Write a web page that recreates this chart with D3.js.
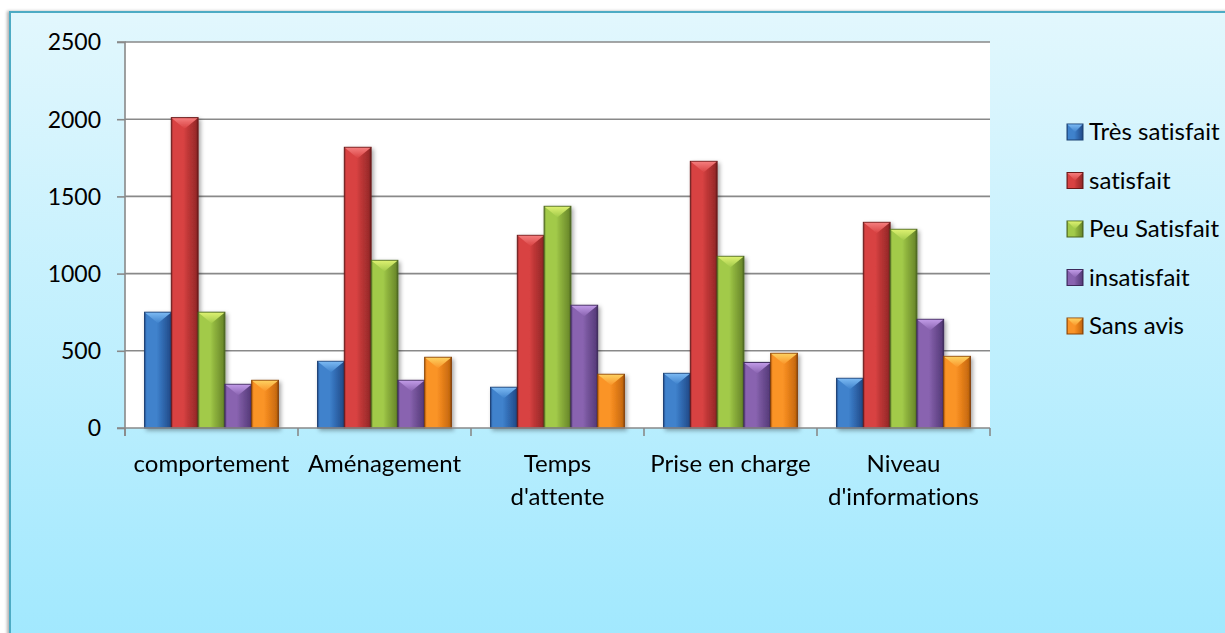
<!DOCTYPE html>
<html>
<head>
<meta charset="utf-8">
<script src="https://cdn.jsdelivr.net/npm/d3@7"></script>
<style>
  html, body { margin: 0; padding: 0; background: #ffffff; }
  svg { display: block; }
  text { font-family: Lato, "Open Sans", sans-serif; fill: #000; font-variant-ligatures: none; }
</style>
</head>
<body>
<svg id="chart" width="1225" height="633"></svg>
<script>
// Satisfaction counts per service aspect
const categories = ["comportement", "Aménagement", "Temps d'attente", "Prise en charge", "Niveau d'informations"];
const categoryLines = [["comportement"], ["Aménagement"], ["Temps", "d'attente"], ["Prise en charge"], ["Niveau", "d'informations"]];
const seriesNames = ["Très satisfait", "satisfait", "Peu Satisfait", "insatisfait", "Sans avis"];
const tresSatisfait = [750, 432, 264, 354, 322];
const satisfait = [2010, 1818, 1248, 1727, 1332];
const peuSatisfait = [750, 1086, 1436, 1112, 1287];
const insatisfait = [283, 309, 795, 425, 704];
const sansAvis = [309, 458, 348, 484, 464];
const yTicks = [0, 500, 1000, 1500, 2000, 2500];

const seriesValues = [tresSatisfait, satisfait, peuSatisfait, insatisfait, sansAvis];

// bevelled bar palette: light top face, main body, bright side, dark edge
const palette = [
  { top: "#7ab8f2", light: "#3f82cc", mid: "#3572bb", dark: "#245090", edge: "#1d4275" },
  { top: "#f47c7c", light: "#d84242", mid: "#c23838", dark: "#9a2a2a", edge: "#6a1a1a" },
  { top: "#dcf070", light: "#a2ca4a", mid: "#8fb43e", dark: "#6d8c2c", edge: "#4a6420" },
  { top: "#c09ae6", light: "#8963b0", mid: "#78569e", dark: "#5a3e7e", edge: "#3d295a" },
  { top: "#fdd060", light: "#fa9428", mid: "#ee861c", dark: "#c86a10", edge: "#884408" }
];

const svg = d3.select("#chart");
const defs = svg.append("defs");

// outer frame gradient
const bg = defs.append("linearGradient").attr("id", "bg").attr("x1", 0).attr("y1", 0).attr("x2", 0).attr("y2", 1);
bg.append("stop").attr("offset", "0%").attr("stop-color", "#e2f7fd");
bg.append("stop").attr("offset", "100%").attr("stop-color", "#a0e8fe");

const shadow = defs.append("filter").attr("id", "shadow").attr("x", "-20%").attr("y", "-20%").attr("width", "150%").attr("height", "140%");
shadow.append("feDropShadow").attr("dx", 2).attr("dy", 2).attr("stdDeviation", 2)
  .attr("flood-color", "#000").attr("flood-opacity", 0.35);

const frameShadow = defs.append("filter").attr("id", "frameShadow").attr("x", "-5%").attr("y", "-5%").attr("width", "110%").attr("height", "110%");
frameShadow.append("feDropShadow").attr("dx", -2).attr("dy", 0).attr("stdDeviation", 1.5)
  .attr("flood-color", "#000").attr("flood-opacity", 0.3);

palette.forEach((c, i) => {
  const g = defs.append("linearGradient").attr("id", "body" + i).attr("x1", 0).attr("y1", 0).attr("x2", 1).attr("y2", 0);
  g.append("stop").attr("offset", "0%").attr("stop-color", c.dark);
  g.append("stop").attr("offset", "8%").attr("stop-color", c.light);
  g.append("stop").attr("offset", "45%").attr("stop-color", c.light);
  g.append("stop").attr("offset", "60%").attr("stop-color", c.mid);
  g.append("stop").attr("offset", "92%").attr("stop-color", c.dark);
  g.append("stop").attr("offset", "100%").attr("stop-color", c.edge);
  const t = defs.append("linearGradient").attr("id", "top" + i).attr("x1", 0).attr("y1", 0).attr("x2", 0).attr("y2", 1);
  t.append("stop").attr("offset", "0%").attr("stop-color", c.top);
  t.append("stop").attr("offset", "100%").attr("stop-color", c.light);
});

// frame
svg.append("rect")
  .attr("x", 10).attr("y", 12).attr("width", 1240).attr("height", 640)
  .attr("fill", "url(#bg)").attr("stroke", "#4dabc4").attr("stroke-width", 2)
  .attr("filter", "url(#frameShadow)");

const plot = { left: 125, right: 990, top: 42, bottom: 428 };

const x = d3.scaleBand().domain(categories).range([plot.left, plot.right]).padding(0);
const xSub = d3.scaleBand().domain(seriesNames).range([0, x.bandwidth()]).paddingInner(0).paddingOuter(0.73);
const y = d3.scaleLinear().domain([0, 2500]).range([plot.bottom, plot.top]);

// plot area
svg.append("rect")
  .attr("x", plot.left).attr("y", plot.top)
  .attr("width", plot.right - plot.left).attr("height", plot.bottom - plot.top)
  .attr("fill", "#ffffff");

// gridlines
svg.append("g").selectAll("line").data(yTicks.filter(d => d > 0)).join("line")
  .attr("x1", plot.left).attr("x2", plot.right)
  .attr("y1", d => y(d)).attr("y2", d => y(d))
  .attr("stroke", "#898989").attr("stroke-width", 1.6);

// y axis
const yAxis = svg.append("g").attr("transform", `translate(${plot.left},0)`)
  .call(d3.axisLeft(y).tickValues(yTicks).tickSize(8).tickPadding(16).tickFormat(d3.format("d")));
yAxis.select(".domain").attr("stroke", "#898989").attr("stroke-width", 1.6).attr("d", `M-8,${plot.top}H0V${plot.bottom + 8}`);
yAxis.selectAll(".tick line").attr("stroke", "#898989").attr("stroke-width", 1.6);
yAxis.selectAll(".tick text").attr("font-size", 23).attr("font-family", "Lato, sans-serif").attr("fill", "#000").attr("dy", "0.34em");

// bars
const barData = [];
seriesValues.forEach((vals, i) => vals.forEach((v, j) => barData.push({ s: i, cat: categories[j], v })));

const bars = svg.append("g").attr("filter", "url(#shadow)")
  .selectAll("g").data(barData).join("g")
  .attr("transform", d => `translate(${x(d.cat) + xSub(seriesNames[d.s])},0)`);

const bw = xSub.bandwidth();
bars.append("rect")
  .attr("x", 0).attr("y", d => y(d.v))
  .attr("width", bw).attr("height", d => y(0) - y(d.v))
  .attr("fill", d => `url(#body${d.s})`)
  .attr("stroke", d => palette[d.s].edge).attr("stroke-width", 1);
bars.append("path")
  .attr("d", d => {
    const t = y(d.v), h = Math.min(11, y(0) - y(d.v));
    return `M0.5,${t + 0.5}L${bw - 0.5},${t + 0.5}L${bw / 2},${t + h}Z`;
  })
  .attr("fill", d => `url(#top${d.s})`);

// baseline
svg.append("line")
  .attr("x1", plot.left - 8).attr("x2", plot.right)
  .attr("y1", plot.bottom).attr("y2", plot.bottom)
  .attr("stroke", "#898989").attr("stroke-width", 1.6);

// category boundary ticks
const bounds = categories.map(c => x(c)).concat([plot.right]);
svg.append("g").selectAll("line").data(bounds).join("line")
  .attr("x1", d => d).attr("x2", d => d)
  .attr("y1", plot.bottom).attr("y2", plot.bottom + 8)
  .attr("stroke", "#898989").attr("stroke-width", 1.6);

// category labels
const labels = svg.append("g").selectAll("text").data(categories).join("text")
  .attr("text-anchor", "middle").attr("font-size", 24)
  .attr("x", d => x(d) + x.bandwidth() / 2)
  .attr("y", 472);
labels.each(function(d, i) {
  d3.select(this).selectAll("tspan").data(categoryLines[i]).join("tspan")
    .attr("x", x(d) + x.bandwidth() / 2)
    .attr("dy", (l, k) => k === 0 ? 0 : 33)
    .text(l => l);
});

// legend
const legend = svg.append("g").selectAll("g").data(seriesNames).join("g")
  .attr("transform", (d, i) => `translate(1067,${132 + i * 48.5})`);
legend.append("rect")
  .attr("x", 0).attr("y", -8).attr("width", 16).attr("height", 16)
  .attr("fill", (d, i) => `url(#body${i})`)
  .attr("stroke", (d, i) => palette[i].edge).attr("stroke-width", 1);
legend.append("path")
  .attr("d", "M0.5,-7.5L15.5,-7.5L8,0Z")
  .attr("fill", (d, i) => `url(#top${i})`);
legend.append("text")
  .attr("x", 22).attr("y", 0).attr("dy", "0.35em")
  .attr("font-size", 24)
  .text(d => d);
</script>
</body>
</html>
